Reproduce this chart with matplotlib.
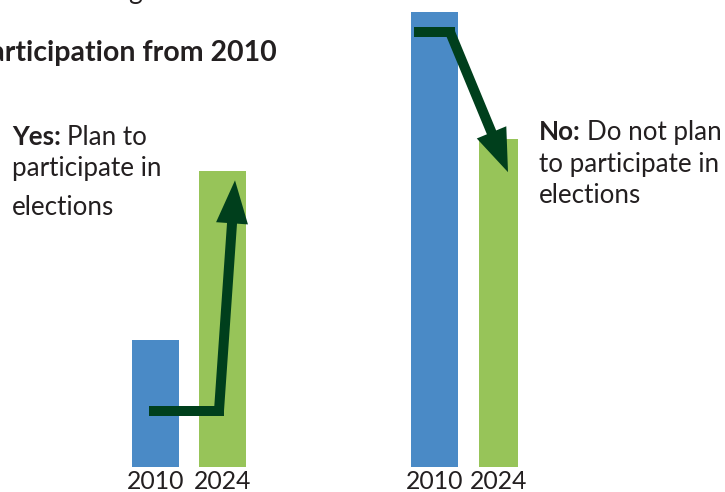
import matplotlib.pyplot as plt
from matplotlib.patches import FancyArrowPatch

plt.rcParams['font.family'] = ['Lato', 'DejaVu Sans']

# Survey results, share of respondents (2010 vs 2024)
years = ["2010", "2024"]
yes_values = [28, 65]
no_values = [100, 72]

blue = "#4a8ac6"
green = "#97c459"
dark_green = "#003f1c"
text_color = "#231f20"

W, H = 725, 492
PX_PER_UNIT = 4.55
BASE = 25  # pixels below the bar baseline

fig = plt.figure(figsize=(W / 100, H / 100), dpi=100)
ax = fig.add_axes([0, 0, 1, 1])
ax.set_xlim(0, W)
ax.set_ylim(-BASE / PX_PER_UNIT, (H - BASE) / PX_PER_UNIT)
ax.axis("off")

# bar centres and widths, in pixels across
yes_x = [155.5, 222.5]
no_x = [434.5, 498.5]
yes_w = [47, 47]
no_w = [47, 39]

ax.bar(yes_x, yes_values, width=yes_w, color=[blue, green])
ax.bar(no_x, no_values, width=no_w, color=[blue, green])

for xs in (yes_x, no_x):
    for x, yr in zip(xs, years):
        ax.text(x, -0.6, yr, ha="center", va="top", fontsize=17.8, color=text_color)


def trend_arrow(x0, x1, y_flat, x_tip, y_tip):
    lw = 7.2
    ax.plot([x0, x1], [y_flat, y_flat], color=dark_green, lw=lw,
            solid_capstyle="projecting", zorder=3)
    arr = FancyArrowPatch((x1, y_flat), (x_tip, y_tip),
                          arrowstyle="simple,head_length=31,head_width=23,tail_width=7.2",
                          mutation_scale=1, color=dark_green, lw=0, zorder=3,
                          shrinkA=0, shrinkB=0)
    ax.add_patch(arr)


trend_arrow(154, 219, yes_values[0] - 15.6, 235, yes_values[1] - 2)
trend_arrow(419, 450, no_values[0] - 4.4, 508, no_values[1] - 7.2)

# headings and labels
fig.text(128 / W, 1 - (-1) / H, "g", fontsize=19, color=text_color, va="baseline")
fig.text(277 / W, 1 - 61 / H, "participation from 2010", fontsize=20.5,
         fontweight="bold", color=text_color, ha="right", va="baseline")


def label(x, baselines, head, rest):
    t = fig.text(x / W, 1 - baselines[0] / H, head, fontsize=18.7, fontweight="bold",
                 color=text_color, va="baseline")
    fig.canvas.draw()
    bb = t.get_window_extent()
    fig.text((bb.x1 + 6) / W, 1 - baselines[0] / H, rest[0], fontsize=18.7,
             color=text_color, va="baseline")
    for line, b in zip(rest[1:], baselines[1:]):
        fig.text(x / W, 1 - b / H, line, fontsize=18.7, color=text_color, va="baseline")


label(12, [145, 176, 215], "Yes:", ["Plan to", "participate in", "elections"])
label(539, [140, 172, 203], "No:", ["Do not plan", "to participate in", "elections"])

fig.savefig("out.png", dpi=100)
